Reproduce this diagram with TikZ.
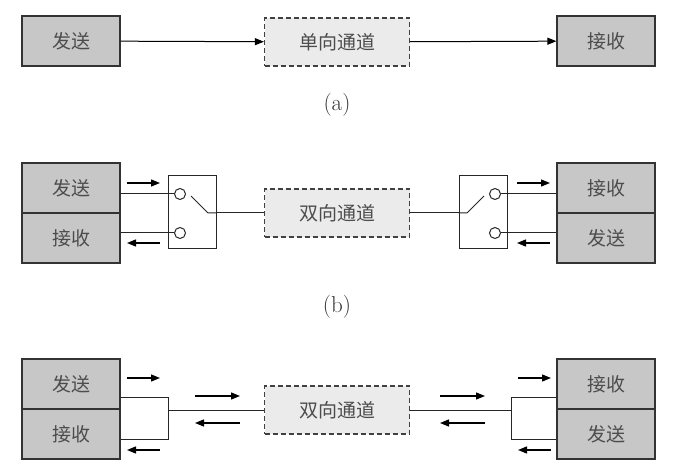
\documentclass[tikz,border=0pt]{standalone}
\usepackage{fontspec}
\newfontfamily\cjk{Noto Sans CJK SC}
\usetikzlibrary{arrows.meta}
\begin{document}
\begin{tikzpicture}[x=1pt,y=-1pt,
 box/.style={draw=black!80,line width=1.2pt,fill=black!22,minimum width=98pt,minimum height=50pt,inner sep=0pt,font=\cjk\fontsize{19}{19}\selectfont,text=black!70},
 chan/.style={draw=black!75,line width=1.2pt,dash pattern=on 5pt off 3pt,fill=black!8,minimum width=145pt,minimum height=48pt,inner sep=0pt,font=\cjk\fontsize{19}{19}\selectfont,text=black!70},
 sw/.style={draw=black!85,line width=1pt,minimum width=48pt,minimum height=73pt,inner sep=0pt},
 dot/.style={circle,draw=black!85,line width=1pt,fill=white,minimum size=11pt,inner sep=0pt},
 w/.style={line width=1pt,black!85},
 ar/.style={line width=1.3pt,-{Triangle[length=9pt,width=7pt]}},
 lab/.style={font=\fontsize{23}{23}\selectfont,text=black!80}]
\useasboundingbox (0,0) rectangle (680,473);
% (a)
\node[box] (s1) at (71,41) {发送};
\node[chan] (c1) at (337,42) {单向通道};
\node[box] (r1) at (606,41) {接收};
\draw[ar,line width=1pt] (s1) -- (c1);
\draw[ar,line width=1pt] (c1) -- (r1);
\node[lab] (la) at (337,105) {(a)};
% (b)
\node[box] (s2) at (71,188) {发送};
\node[box] (r2) at (71,238) {接收};
\node[sw] (w2) at (192,212) {};
\node[dot] (d2a) at (180,194) {};
\node[dot] (d2b) at (180,233) {};
\coordinate (p2) at (208,213);
\draw[w] (s2.east |- d2a) -- (d2a);
\draw[w] (r2.east |- d2b) -- (d2b);
\draw[w] (191,196) -- (p2) -- (w2.east |- p2);
\node[chan] (c2) at (337,213) {双向通道};
\draw[w] (w2.east |- p2) -- (c2);
\draw[ar] (127,183) -- (160,183);
\draw[ar] (160,243) -- (127,243);
\node[box] (r3) at (606,188) {接收};
\node[box] (s3) at (606,238) {发送};
\node[sw] (w3) at (483,212) {};
\node[dot] (d3a) at (495,194) {};
\node[dot] (d3b) at (495,233) {};
\coordinate (p3) at (467,213);
\draw[w] (r3.west |- d3a) -- (d3a);
\draw[w] (s3.west |- d3b) -- (d3b);
\draw[w] (484,196) -- (p3) -- (w3.west |- p3);
\draw[w] (w3.west |- p3) -- (c2);
\draw[ar] (517,183) -- (550,183);
\draw[ar] (550,243) -- (517,243);
\node[lab] (lb) at (337,307) {(b)};
% (c)
\node[box] (s4) at (71,384) {发送};
\node[box] (r4) at (71,434) {接收};
\node[chan] (c4) at (337,410) {双向通道};
\coordinate (j4a) at (168,397); \coordinate (j4b) at (168,439);
\draw[w] (s4.east |- j4a) -- (j4a) -- (j4b) -- (r4.east |- j4b);
\draw[w] (168,410) -- (c4);
\draw[ar] (127,378) -- (160,378);
\draw[ar] (160,450) -- (127,450);
\draw[ar] (195,396) -- (240,396);
\draw[ar] (240,423) -- (195,423);
\node[box] (r5) at (606,384) {接收};
\node[box] (s5) at (606,434) {发送};
\coordinate (j5a) at (511,397); \coordinate (j5b) at (511,439);
\draw[w] (r5.west |- j5a) -- (j5a) -- (j5b) -- (s5.west |- j5b);
\draw[w] (511,410) -- (c4);
\draw[ar] (518,378) -- (551,378);
\draw[ar] (551,450) -- (518,450);
\draw[ar] (440,396) -- (485,396);
\draw[ar] (485,423) -- (440,423);
\end{tikzpicture}
\end{document}
